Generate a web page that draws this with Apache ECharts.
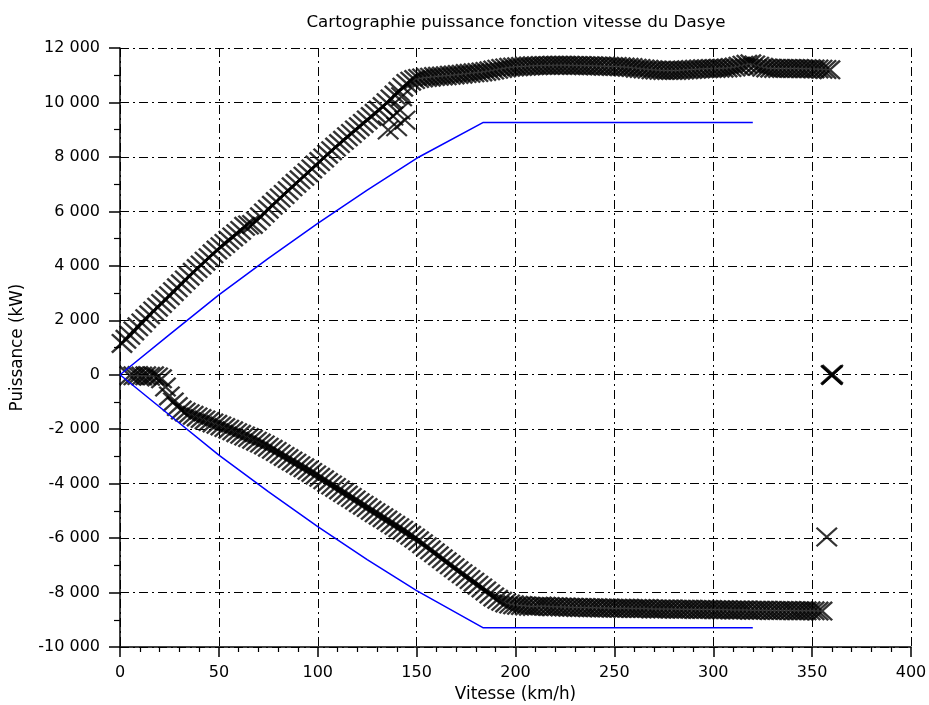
<!DOCTYPE html>
<html>
<head>
<meta charset="utf-8">
<script src="https://cdn.jsdelivr.net/npm/echarts@6/dist/echarts.min.js"></script>
<style>
html,body{margin:0;padding:0;background:#fff;}
#chart{width:929px;height:705px;}
</style>
</head>
<body>
<div id="chart"></div>
<script>
// ---- data ----
const titleText = 'Cartographie puissance fonction vitesse du Dasye';
const xName = 'Vitesse (km/h)';
const yName = 'Puissance (kW)';

// traction branch (upper cloud of points)
const upperSpeed = [
  1,3,5,7,9,11,13,15,17,19,
  21,23,25,27,29,31,33,35,37,39,
  41,43,45,47,49,51,53,55,57,59,
  61,63,65,67,69,71,73,75,77,79,
  81,83,85,87,89,91,93,95,97,99,
  101,103,105,107,109,111,113,115,117,119,
  121,123,125,127,129,131,133,135,137,139,
  141,143,145,147,149,151,153,155,157,159,
  161,163,165,167,169,171,173,175,177,179,
  181,183,185,187,189,191,193,195,197,199,
  201,203,205,207,209,211,213,215,217,219,
  221,223,225,227,229,231,233,235,237,239,
  241,243,245,247,249,251,253,255,257,259,
  261,263,265,267,269,271,273,275,277,279,
  281,283,285,287,289,291,293,295,297,299,
  301,303,305,307,309,311,313,315,317,319,
  321,323,325,327,329,331,333,335,337,339,
  341,343,345,347,349,351,353,355,357,359
];
const upperPower = [
  1150,1300,1450,1610,1760,1900,2060,2200,2340,2480,
  2620,2760,2900,3050,3190,3340,3480,3620,3760,3900,
  4030,4170,4300,4440,4580,4700,4820,4940,5060,5180,
  5300,5450,5500,5520,5650,5800,5940,6080,6220,6360,
  6490,6620,6760,6900,7030,7160,7290,7420,7560,7700,
  7830,7960,8100,8230,8360,8490,8610,8740,8860,8990,
  9110,9230,9360,9480,9600,9720,9850,9990,10130,10270,
  10410,10560,10700,10780,10840,10880,10900,10920,10930,10950,
  10960,10970,10980,11000,11010,11030,11040,11060,11070,11090,
  11100,11120,11140,11160,11190,11220,11250,11270,11290,11300,
  11310,11320,11330,11340,11350,11350,11360,11360,11360,11370,
  11370,11370,11370,11370,11360,11360,11360,11350,11350,11350,
  11340,11340,11330,11330,11320,11320,11310,11300,11290,11280,
  11260,11250,11230,11220,11200,11190,11180,11170,11170,11170,
  11170,11180,11190,11200,11210,11220,11230,11240,11240,11250,
  11250,11260,11260,11270,11280,11300,11330,11370,11400,11420,
  11380,11330,11290,11270,11260,11250,11250,11250,11250,11250,
  11250,11250,11240,11240,11240,11230,11230,11220,11210,11200
];
// scattered points near 140 km/h
const strayTractionSpeed = [135.6, 139.9, 141.6, 144.1, 142.4, 138.0];
const strayTractionPower = [8990, 9110, 9720, 9350, 10210, 9500];

// braking branch (lower cloud of points)
const lowerSpeed = [
  5,7,9,11,13,15,17,19,
  21,23,25,27,29,31,33,35,37,39,
  41,43,45,47,49,51,53,55,57,59,
  61,63,65,67,69,71,73,75,77,79,
  81,83,85,87,89,91,93,95,97,99,
  101,103,105,107,109,111,113,115,117,119,
  121,123,125,127,129,131,133,135,137,139,
  141,143,145,147,149,151,153,155,157,159,
  161,163,165,167,169,171,173,175,177,179,
  181,183,185,187,189,191,193,195,197,199,
  201,203,205,207,209,211,213,215,217,219,
  221,223,225,227,229,231,233,235,237,239,
  241,243,245,247,249,251,253,255,257,259,
  261,263,265,267,269,271,273,275,277,279,
  281,283,285,287,289,291,293,295,297,299,
  301,303,305,307,309,311,313,315,317,319,
  321,323,325,327,329,331,333,335,337,339,
  341,343,345,347,349,351,353,355
];
const lowerPower = [
  -30,-40,-30,-50,-40,-60,-40,-80,
  -150,-450,-780,-1000,-1170,-1300,-1370,-1430,-1490,-1550,
  -1610,-1660,-1720,-1770,-1820,-1880,-1940,-2000,-2060,-2130,
  -2190,-2250,-2310,-2370,-2440,-2510,-2580,-2660,-2740,-2820,
  -2910,-3000,-3080,-3170,-3250,-3340,-3420,-3510,-3590,-3680,
  -3770,-3860,-3960,-4050,-4140,-4230,-4330,-4420,-4510,-4600,
  -4700,-4790,-4880,-4980,-5070,-5160,-5250,-5340,-5440,-5530,
  -5620,-5710,-5800,-5900,-6000,-6100,-6210,-6320,-6430,-6540,
  -6650,-6760,-6870,-6980,-7090,-7200,-7310,-7410,-7520,-7620,
  -7730,-7830,-7940,-8050,-8160,-8250,-8320,-8380,-8420,-8450,
  -8470,-8480,-8490,-8500,-8510,-8500,-8490,-8500,-8510,-8520,
  -8520,-8530,-8530,-8540,-8540,-8550,-8550,-8550,-8560,-8560,
  -8560,-8570,-8570,-8570,-8580,-8580,-8580,-8580,-8580,-8590,
  -8590,-8590,-8590,-8590,-8600,-8600,-8600,-8600,-8600,-8600,
  -8610,-8610,-8610,-8610,-8610,-8620,-8620,-8620,-8620,-8620,
  -8630,-8630,-8630,-8630,-8640,-8640,-8640,-8640,-8640,-8650,
  -8650,-8650,-8650,-8650,-8660,-8660,-8660,-8660,-8660,-8660,
  -8670,-8670,-8670,-8670,-8670,-8670,-8680,-8680
];

// isolated points on the right
const boldSpeed = [359.6, 360.0, 360.4, 360.2];
const boldPower = [0, -30, 20, -10];
const loneSpeed = [357.4];
const lonePower = [-5960];

// blue limit curves
const limitSpeed = [0, 25, 50, 75, 100, 125, 150, 183.5, 320];
const limitPowerUp = [0, 1470, 2930, 4270, 5560, 6780, 7950, 9260, 9260];
const limitPowerDown = [0, -1480, -2950, -4290, -5580, -6790, -7930, -9290, -9290];

// ---- build chart ----
const FONT = 'DejaVu Sans';
const pair = (xs, ys) => xs.map((x, i) => [x, ys[i]]);
const crossThick = 'path://M0,1.6L1.6,0L10,8.4L18.4,0L20,1.6L11.6,10L20,18.4L18.4,20L10,11.6L1.6,20L0,18.4L8.4,10Z';
const crossThin = 'path://M0,1.4L1.4,0L10,8.6L18.6,0L20,1.4L11.4,10L20,18.6L18.6,20L10,11.4L1.4,20L0,18.6L8.6,10Z';
const gridDash = [9, 4, 2, 4];

function fmtThousands(v) {
  const s = Math.abs(v).toString().replace(/\B(?=(\d{3})+(?!\d))/g, ' ');
  return (v < 0 ? '-' : '') + s;
}

function scatter(name, data, path) {
  return {
    type: 'scatter', name: name, data: data,
    symbol: path, symbolSize: [22, 20],
    itemStyle: { color: '#000' }, silent: true, z: 2
  };
}

const chart = echarts.init(document.getElementById('chart'), null, { renderer: 'canvas' });
chart.setOption({
  animation: false,
  backgroundColor: '#fff',
  title: {
    text: titleText,
    left: 511,
    textAlign: 'center',
    top: 9,
    textStyle: { fontFamily: FONT, fontSize: 16.7, fontWeight: 'normal', color: '#000' }
  },
  grid: { left: 120, right: 18, top: 48, bottom: 58, containLabel: false, outerBoundsMode: 'none' },
  xAxis: {
    type: 'value', min: 0, max: 400, interval: 50,
    name: xName, nameLocation: 'middle', nameGap: 39,
    nameTextStyle: { fontFamily: FONT, fontSize: 16.8, color: '#000' },
    axisLine: { show: true, onZero: false, lineStyle: { color: '#000', width: 1.5 } },
    axisTick: { show: true, length: 10, lineStyle: { color: '#000', width: 1.5 } },
    minorTick: { show: true, splitNumber: 5, length: 5, lineStyle: { color: '#000', width: 1.2 } },
    axisLabel: { fontFamily: FONT, fontSize: 16, color: '#000', margin: 18 },
    splitLine: { show: true, lineStyle: { color: '#000', width: 1, type: gridDash } }
  },
  yAxis: {
    type: 'value', min: -10000, max: 12000, interval: 2000,
    name: yName, nameLocation: 'middle', nameGap: 94,
    nameTextStyle: { fontFamily: FONT, fontSize: 16.8, color: '#000' },
    axisLine: { show: true, onZero: false, lineStyle: { color: '#000', width: 1.5 } },
    axisTick: { show: true, length: 11, lineStyle: { color: '#000', width: 1.5 } },
    minorTick: { show: true, splitNumber: 2, length: 6, lineStyle: { color: '#000', width: 1.2 } },
    axisLabel: { fontFamily: FONT, fontSize: 16, color: '#000', margin: 20, formatter: fmtThousands },
    splitLine: { show: true, lineStyle: { color: '#000', width: 1, type: gridDash } }
  },
  series: [
    scatter('traction', pair(upperSpeed, upperPower), crossThick),
    scatter('traction2', pair(strayTractionSpeed, strayTractionPower), crossThin),
    scatter('freinage', pair(lowerSpeed, lowerPower), crossThick),
    scatter('isoles', pair(boldSpeed, boldPower), crossThin),
    scatter('isole', pair(loneSpeed, lonePower), crossThin),
    {
      type: 'line', name: 'limUp', data: pair(limitSpeed, limitPowerUp),
      showSymbol: false, symbol: 'none', silent: true, z: 3,
      lineStyle: { color: '#0000ff', width: 1.5 }
    },
    {
      type: 'line', name: 'limDown', data: pair(limitSpeed, limitPowerDown),
      showSymbol: false, symbol: 'none', silent: true, z: 3,
      lineStyle: { color: '#0000ff', width: 1.5 }
    }
  ]
});
</script>
</body>
</html>
